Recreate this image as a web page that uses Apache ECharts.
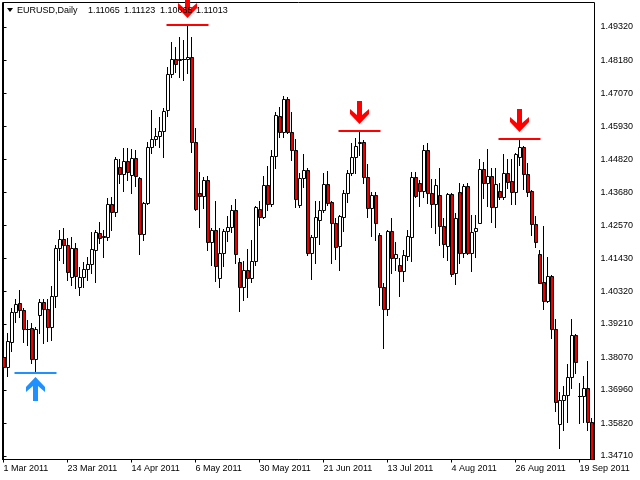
<!DOCTYPE html>
<html>
<head>
<meta charset="utf-8">
<script src="https://cdn.jsdelivr.net/npm/echarts@6/dist/echarts.min.js"></script>
<style>html,body{margin:0;padding:0;background:#fff}#c{width:640px;height:480px}</style>
</head>
<body>
<div id="c"></div>
<script>
// ---- data ----
const symbolText = 'EURUSD,Daily';
const quoteTexts = ['1.11065', '1.11123', '1.10665', '1.11013'];
const startDate = '2011-03-01';
const barCount = 148;
const xTickIndex = [0, 16, 32, 48, 64, 80, 96, 112, 128, 144];

const opens = [1.3808,1.3774,1.3859,1.3961,1.3992,1.3968,1.3905,1.3907,1.3801,1.3951,
1.3995,1.3972,1.3910,1.4016,1.4179,1.4210,1.4190,1.4081,1.4179,1.4047,
1.4081,1.4108,1.4125,1.4173,1.4230,1.4220,1.4217,1.4329,1.4302,1.4455,
1.4431,1.4476,1.4428,1.4486,1.4418,1.4227,1.4333,1.4523,1.4551,1.4561,
1.4578,1.4649,1.4772,1.4823,1.4821,1.4823,1.4823,1.4830,1.4540,1.4367,
1.4357,1.4411,1.4200,1.4241,1.4077,1.4162,1.4237,1.4251,1.4309,1.4132,
1.4047,1.4104,1.4077,1.4135,1.4312,1.4285,1.4394,1.4329,1.4493,1.4629,
1.4574,1.4687,1.4574,1.4513,1.4326,1.4418,1.4445,1.4162,1.4217,1.4275,
1.4309,1.4397,1.4336,1.4264,1.4186,1.4285,1.4367,1.4435,1.4490,1.4537,
1.4540,1.4421,1.4316,1.4360,1.4224,1.4047,1.3972,1.4237,1.4145,1.4121,
1.4101,1.4152,1.4217,1.4421,1.4401,1.4374,1.4513,1.4367,1.4329,1.4360,
1.4254,1.4186,1.4363,1.4094,1.4370,1.4162,1.4391,1.4162,1.4237,1.4264,
1.4448,1.4401,1.4425,1.4319,1.4374,1.4353,1.4435,1.4408,1.4370,1.4490,
1.4523,1.4431,1.4374,1.4261,1.4159,1.4064,1.3999,1.4084,1.3903,1.3580,
1.3662,1.3679,1.3740,1.3883,1.3674,1.3675,1.3703,1.3587];
const highs = [1.3856,1.3890,1.3975,1.4006,1.4036,1.3975,1.3934,1.3924,1.3910,1.4006,
1.4006,1.4006,1.4050,1.4190,1.4241,1.4248,1.4213,1.4217,1.4196,1.4115,
1.4132,1.4149,1.4234,1.4241,1.4268,1.4241,1.4350,1.4353,1.4489,1.4482,
1.4520,1.4520,1.4517,1.4513,1.4421,1.4336,1.4540,1.4649,1.4588,1.4626,
1.4656,1.4796,1.4881,1.4864,1.4898,1.4888,1.4939,1.4898,1.4588,1.4438,
1.4421,1.4425,1.4248,1.4339,1.4248,1.4244,1.4288,1.4326,1.4346,1.4145,
1.4135,1.4176,1.4207,1.4322,1.4339,1.4425,1.4459,1.4513,1.4643,1.4660,
1.4697,1.4694,1.4643,1.4551,1.4435,1.4500,1.4452,1.4224,1.4339,1.4339,
1.4435,1.4442,1.4339,1.4282,1.4292,1.4377,1.4445,1.4537,1.4554,1.4578,
1.4547,1.4465,1.4370,1.4370,1.4230,1.4060,1.4241,1.4282,1.4200,1.4145,
1.4173,1.4241,1.4438,1.4438,1.4411,1.4530,1.4537,1.4414,1.4414,1.4452,
1.4282,1.4367,1.4367,1.4299,1.4401,1.4397,1.4401,1.4292,1.4292,1.4482,
1.4472,1.4517,1.4452,1.4452,1.4401,1.4500,1.4482,1.4482,1.4503,1.4551,
1.4527,1.4469,1.4377,1.4288,1.4173,1.4254,1.4149,1.4087,1.3937,1.3689,
1.3709,1.3784,1.3937,1.3885,1.3720,1.3743,1.3794,1.3600];
const lows = [1.3764,1.3743,1.3829,1.3927,1.3944,1.3859,1.3849,1.3788,1.3754,1.3890,
1.3856,1.3863,1.3866,1.3978,1.4138,1.4128,1.4070,1.4053,1.4043,1.4019,
1.4047,1.4070,1.4094,1.4064,1.4196,1.4149,1.4207,1.4241,1.4288,1.4401,
1.4373,1.4411,1.4367,1.4391,1.4159,1.4207,1.4329,1.4503,1.4530,1.4523,
1.4490,1.4629,1.4762,1.4779,1.4762,1.4752,1.4775,1.4506,1.4309,1.4251,
1.4316,1.4173,1.4121,1.4067,1.4047,1.4118,1.4203,1.4234,1.4128,1.3965,
1.4002,1.4013,1.4064,1.4121,1.4258,1.4282,1.4309,1.4322,1.4452,1.4557,
1.4557,1.4571,1.4479,1.4319,1.4319,1.4387,1.4156,1.4074,1.4128,1.4193,
1.4302,1.4326,1.4128,1.4142,1.4104,1.4237,1.4336,1.4428,1.4435,1.4496,
1.4401,1.4285,1.4220,1.4207,1.3985,1.3839,1.3951,1.4094,1.4104,1.4016,
1.4067,1.4138,1.4135,1.4353,1.4322,1.4353,1.4333,1.4251,1.4230,1.4190,
1.4149,1.4138,1.4084,1.4057,1.4128,1.4149,1.4159,1.4101,1.4149,1.4264,
1.4350,1.4322,1.4268,1.4251,1.4346,1.4346,1.4384,1.4329,1.4329,1.4462,
1.4380,1.4357,1.4224,1.4183,1.4060,1.3972,1.3995,1.3873,1.3624,1.3498,
1.3559,1.3587,1.3703,1.3754,1.3583,1.3587,1.3559,1.3440];
const closes = [1.3774,1.3863,1.3961,1.3989,1.3968,1.3903,1.3903,1.3801,1.3903,1.3995,
1.3972,1.3910,1.4016,1.4179,1.4210,1.4190,1.4098,1.4179,1.4084,1.4081,
1.4108,1.4125,1.4176,1.4234,1.4213,1.4217,1.4329,1.4302,1.4482,1.4431,
1.4476,1.4438,1.4486,1.4425,1.4227,1.4333,1.4523,1.4551,1.4561,1.4578,
1.4646,1.4772,1.4823,1.4806,1.4823,1.4822,1.4830,1.4540,1.4312,1.4357,
1.4411,1.4200,1.4241,1.4118,1.4162,1.4237,1.4251,1.4309,1.4159,1.4047,
1.4104,1.4077,1.4135,1.4319,1.4285,1.4394,1.4329,1.4493,1.4632,1.4574,
1.4687,1.4574,1.4513,1.4346,1.4418,1.4445,1.4162,1.4217,1.4285,1.4309,
1.4397,1.4333,1.4264,1.4183,1.4288,1.4367,1.4435,1.4490,1.4527,1.4540,
1.4421,1.4316,1.4360,1.4264,1.4047,1.3972,1.4237,1.4145,1.4159,1.4101,
1.4156,1.4220,1.4421,1.4357,1.4374,1.4513,1.4367,1.4329,1.4394,1.4254,
1.4193,1.4363,1.4091,1.4282,1.4162,1.4391,1.4162,1.4234,1.4248,1.4448,
1.4401,1.4425,1.4319,1.4397,1.4353,1.4435,1.4404,1.4370,1.4500,1.4523,
1.4431,1.4370,1.4261,1.4200,1.4060,1.3999,1.4084,1.3903,1.3655,1.3662,
1.3679,1.3740,1.3883,1.3791,1.3675,1.3703,1.3587,1.3445];

// signals: bar index, price level, direction (1 = buy arrow below, -1 = sell arrow above)
const signalIndex = [8, 46, 89, 129];
const signalPrice = [1.3754, 1.4939, 1.4578, 1.4551];
const signalDir = [1, -1, -1, -1];

const yTickValues = [1.49320,1.48180,1.47070,1.45930,1.44820,1.43680,1.42570,1.41430,1.40320,1.39210,1.38070,1.36960,1.35820,1.34710];
const yMin = 1.34589, yMax = 1.50155;

// ---- categories (weekday dates) ----
const months = ['Jan','Feb','Mar','Apr','May','Jun','Jul','Aug','Sep','Oct','Nov','Dec'];
const dates = [];
{
  const d = new Date(startDate + 'T00:00:00Z');
  while (dates.length < barCount) {
    const wd = d.getUTCDay();
    if (wd !== 0 && wd !== 6) dates.push(d.getUTCDate() + ' ' + months[d.getUTCMonth()] + ' ' + d.getUTCFullYear());
    d.setUTCDate(d.getUTCDate() + 1);
  }
}

const candles = opens.map((o, i) => [i, o, closes[i], lows[i], highs[i]]);
const signals = signalIndex.map((s, i) => [s, signalPrice[i], signalDir[i]]);

const FONT = '"Liberation Sans", Arial, sans-serif';
const BEAR = '#e60000';
const chart = echarts.init(document.getElementById('c'), null, {renderer: 'canvas'});

const headerGraphics = [
  {type: 'polygon', shape: {points: [[7, 8], [13, 8], [10, 12]]}, style: {fill: '#000'}, z: 100},
  {type: 'text', x: 17, y: 6, style: {text: symbolText, font: '9px ' + FONT, fill: '#000'}, z: 100}
];
const quoteX = [88, 124, 160, 196];
quoteTexts.forEach((t, k) => headerGraphics.push({type: 'text', x: quoteX[k], y: 6, style: {text: t, font: '9px ' + FONT, fill: '#000'}, z: 100}));

chart.setOption({
  animation: false,
  backgroundColor: '#fff',
  grid: {left: 2.5, top: 2.5, right: 45.5, bottom: 20.5, show: true, borderColor: '#000', borderWidth: 1, containLabel: false},
  xAxis: {
    type: 'value', min: -0.25, max: barCount - 0.25,
    axisLine: {show: true, onZero: false, lineStyle: {color: '#000', width: 1}},
    axisTick: {show: true, length: 3, customValues: xTickIndex, lineStyle: {color: '#000'}},
    axisLabel: {customValues: xTickIndex, formatter: (v) => dates[Math.round(v)] || '', align: 'left', margin: 5, fontSize: 9, fontFamily: FONT, color: '#000'},
    splitLine: {show: false}
  },
  yAxis: {
    type: 'value', position: 'right', min: yMin, max: yMax, scale: true,
    axisLine: {show: true, lineStyle: {color: '#000', width: 1}},
    axisTick: {show: true, length: 3, customValues: yTickValues, lineStyle: {color: '#000'}},
    axisLabel: {customValues: yTickValues, formatter: (v) => v.toFixed(5), margin: 6, fontSize: 9, fontFamily: FONT, color: '#000'},
    splitLine: {show: false}
  },
  graphic: headerGraphics,
  series: [
    {
      type: 'custom', data: candles, clip: true, z: 5,
      encode: {x: 0, y: [1, 2, 3, 4]},
      renderItem: function (params, api) {
        const i = api.value(0);
        const o = api.value(1), c = api.value(2), l = api.value(3), h = api.value(4);
        const pO = api.coord([i, o]);
        const px = Math.floor(pO[0] + 0.1) + 0.5;
        const yO = pO[1], yC = api.coord([i, c])[1];
        const yL = api.coord([i, l])[1], yH = api.coord([i, h])[1];
        const top = Math.round(Math.min(yO, yC)) + 0.5;
        const bot = Math.round(Math.max(yO, yC)) + 0.5;
        const bull = c >= o;
        const children = [
          {type: 'line', shape: {x1: px, y1: Math.round(yH), x2: px, y2: Math.round(yL) + 1}, style: {stroke: '#000', lineWidth: 1}}
        ];
        if (bot - top >= 1) {
          children.push({type: 'rect', shape: {x: px - 1, y: top, width: 3, height: bot - top}, style: {fill: bull ? '#ffffff' : BEAR, stroke: '#000', lineWidth: 1}});
        } else {
          children.push({type: 'line', shape: {x1: px - 1.5, y1: top, x2: px + 2.5, y2: top}, style: {stroke: '#000', lineWidth: 1}});
        }
        return {type: 'group', children: children};
      }
    },
    {
      type: 'custom', data: signals, clip: false, z: 10,
      encode: {x: 0, y: 1},
      renderItem: function (params, api) {
        const p = api.coord([api.value(0), api.value(1)]);
        const dir = api.value(2);
        const cx = Math.floor(p[0] + 0.1) + 0.5;
        const y = Math.round(p[1]);
        const col = dir > 0 ? '#1e90ff' : '#ff0000';
        let pts;
        if (dir > 0) {
          const tip = y + 4;
          pts = [[cx, tip], [cx + 9.5, tip + 10], [cx + 9.5, tip + 15], [cx + 2.5, tip + 9], [cx + 2.5, tip + 24], [cx - 2.5, tip + 24], [cx - 2.5, tip + 9], [cx - 9.5, tip + 15], [cx - 9.5, tip + 10]];
        } else {
          const tip = y - 7;
          pts = [[cx, tip], [cx + 9.5, tip - 10], [cx + 9.5, tip - 15], [cx + 2.5, tip - 9], [cx + 2.5, tip - 23], [cx - 2.5, tip - 23], [cx - 2.5, tip - 9], [cx - 9.5, tip - 15], [cx - 9.5, tip - 10]];
        }
        return {
          type: 'group',
          children: [
            {type: 'line', shape: {x1: cx - 21, y1: y, x2: cx + 21, y2: y}, style: {stroke: col, lineWidth: 2}},
            {type: 'polygon', shape: {points: pts}, style: {fill: col}}
          ]
        };
      }
    }
  ]
});
</script>
</body>
</html>
